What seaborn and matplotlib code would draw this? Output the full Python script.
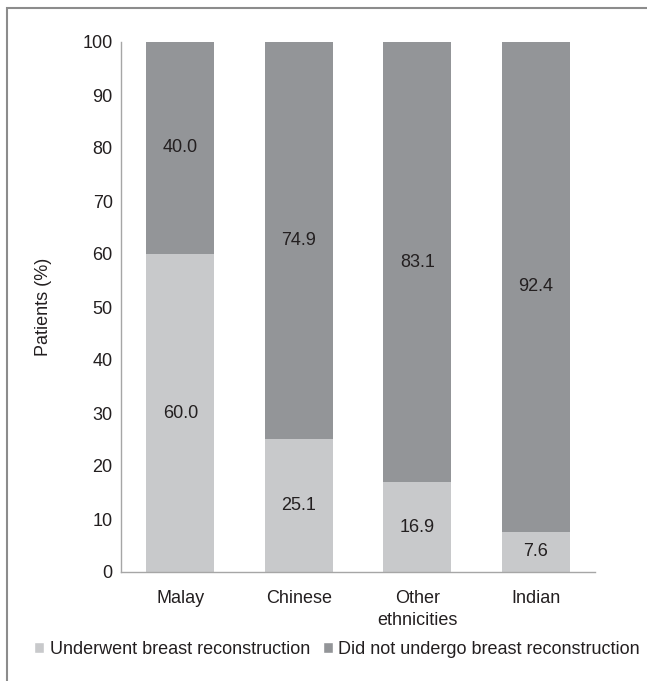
import matplotlib
matplotlib.use("Agg")
import matplotlib.pyplot as plt
from matplotlib.patches import Rectangle, Patch
import seaborn as sns
import pandas as pd

categories = ["Malay", "Chinese", "Other\nethnicities", "Indian"]
underwent = [60.0, 25.1, 16.9, 7.6]
did_not = [40.0, 74.9, 83.1, 92.4]
y_ticks = [0, 10, 20, 30, 40, 50, 60, 70, 80, 90, 100]

light = "#c8c9cb"
dark = "#939598"
text_color = "#231f20"
fs = 13

sns.set_theme(style="white")
plt.rcParams["font.family"] = ["Liberation Sans", "DejaVu Sans"]

df = pd.DataFrame({
    "category": categories,
    "underwent": underwent,
    "did_not": did_not,
})
df["total"] = df["underwent"] + df["did_not"]

fig = plt.figure(figsize=(6.47, 6.81), dpi=100)
ax = fig.add_axes([121 / 647, 1 - 572 / 681, (595 - 121) / 647, (572 - 42) / 681])

# stacked bars: full-height dark bar, light segment drawn over its base
sns.barplot(data=df, x="category", y="total", color=dark, width=0.575,
            saturation=1, linewidth=0, ax=ax)
sns.barplot(data=df, x="category", y="underwent", color=light, width=0.575,
            saturation=1, linewidth=0, ax=ax)

for i, (u, d) in enumerate(zip(underwent, did_not)):
    ax.text(i, u / 2, f"{u:.1f}", ha="center", va="center", fontsize=fs,
            color=text_color)
    ax.text(i, u + d / 2, f"{d:.1f}", ha="center", va="center", fontsize=fs,
            color=text_color)

ax.set_ylim(0, 100)
ax.set_xlim(-0.5, 3.5)
ax.set_yticks(y_ticks)
ax.set_yticklabels([str(t) for t in y_ticks])
ax.tick_params(axis="both", length=0, labelsize=fs, colors=text_color)
ax.tick_params(axis="y", pad=6)
ax.tick_params(axis="x", pad=13)
for lbl in ax.get_xticklabels():
    lbl.set_linespacing(1.35)
ax.set_xlabel("")
ax.set_ylabel("Patients (%)", fontsize=fs, color=text_color, labelpad=22)

for side in ["top", "right"]:
    ax.spines[side].set_visible(False)
for side in ["left", "bottom"]:
    ax.spines[side].set_color("#a6a6a6")
    ax.spines[side].set_linewidth(1.0)

handles = [Patch(facecolor=light, label="Underwent breast reconstruction"),
           Patch(facecolor=dark, label="Did not undergo breast reconstruction")]
fig.legend(handles=handles, loc="center", bbox_to_anchor=(337 / 647, 1 - 649 / 681),
           ncol=2, frameon=False, fontsize=fs, handlelength=0.55, handleheight=0.55,
           handletextpad=0.3, columnspacing=0.7, labelcolor=text_color,
           borderpad=0, borderaxespad=0)

# outer frame
fig.patches.append(Rectangle((7 / 647, -0.05), 1.0, 1 - 8 / 681 + 0.05,
                             transform=fig.transFigure, fill=False,
                             edgecolor="#8c8c8c", linewidth=1.5, zorder=0))

fig.savefig("out.png", dpi=100)
